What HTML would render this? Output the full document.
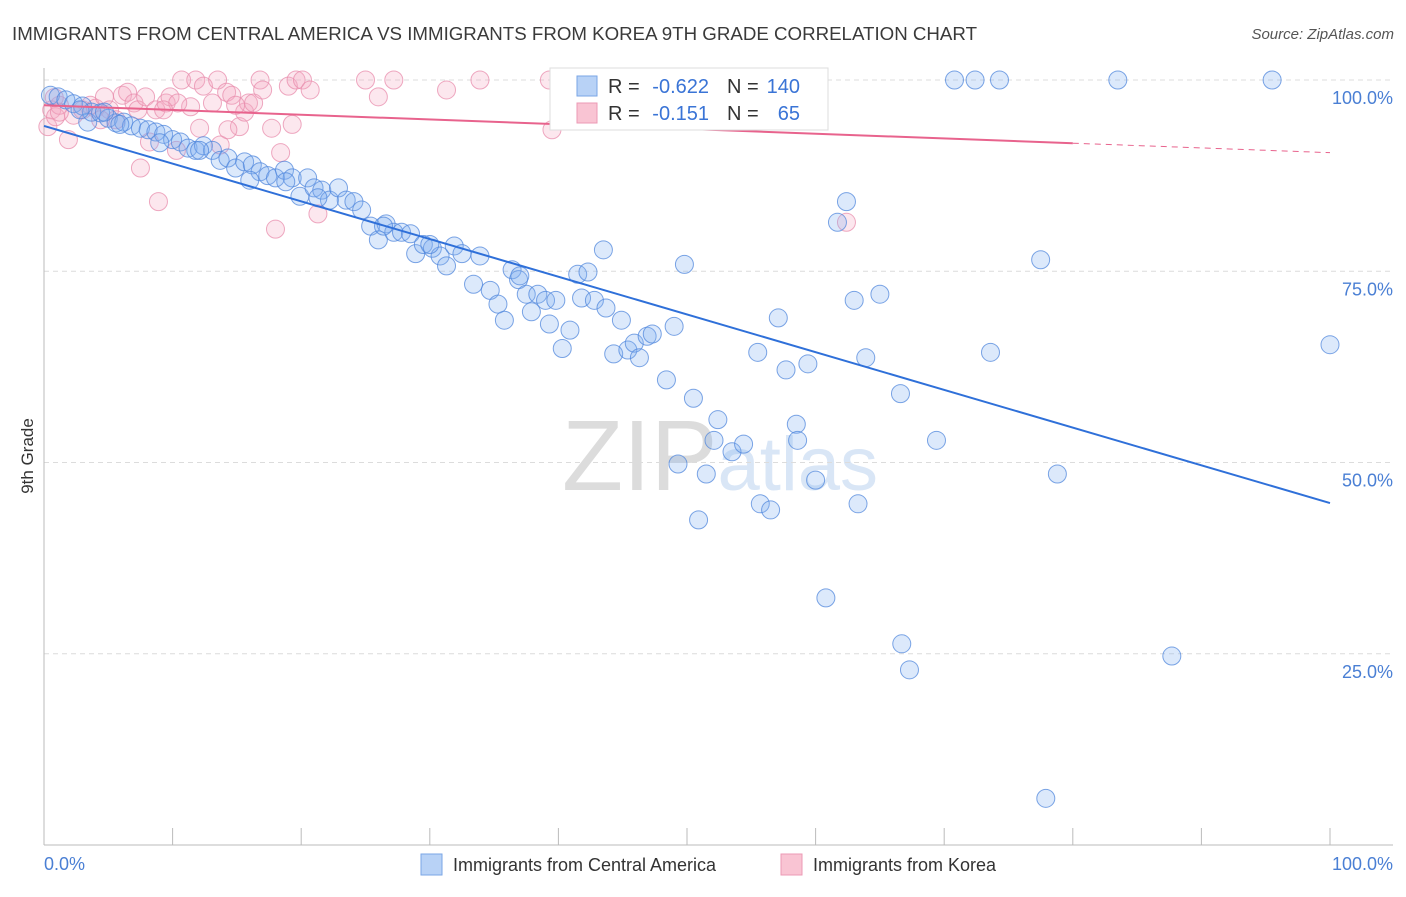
<!DOCTYPE html>
<html><head><meta charset="utf-8"><style>
body{margin:0;background:#fff;font-family:"Liberation Sans",sans-serif;}
svg text{font-family:"Liberation Sans",sans-serif;}
</style></head><body>
<svg id="chart" width="1406" height="892" viewBox="0 0 1406 892" xmlns="http://www.w3.org/2000/svg">
<text x="12" y="40" font-size="18" fill="#3a3a3a" textLength="965" lengthAdjust="spacingAndGlyphs">IMMIGRANTS FROM CENTRAL AMERICA VS IMMIGRANTS FROM KOREA 9TH GRADE CORRELATION CHART</text>
<text x="1394" y="39" font-size="15" fill="#555" text-anchor="end" font-style="italic">Source: ZipAtlas.com</text>
<text x="720" y="490" font-size="100" text-anchor="middle" fill="#e4e4e4" font-family="Liberation Serif"><tspan fill="#dcdcdc">ZIP</tspan><tspan fill="#d9e6f6" font-family="Liberation Sans" font-size="76">atlas</tspan></text>
<g id="grid"></g>
<g id="axes"></g>
<g id="pts"></g>
<g id="trends"></g>
<text transform="translate(33,456) rotate(-90)" font-size="17" fill="#333" text-anchor="middle">9th Grade</text>
<g>
<rect x="550" y="68" width="278" height="62" fill="#fff" stroke="#ddd"/>
<rect x="577" y="76" width="20" height="20" fill="#b8d2f6" stroke="#7aa6e6"/>
<rect x="577" y="103" width="20" height="20" fill="#f9c4d3" stroke="#ec9ab4"/>
<text x="608" y="93" font-size="20" fill="#333">R =</text>
<text x="709" y="93" font-size="20" fill="#3a74d6" text-anchor="end">-0.622</text>
<text x="727" y="93" font-size="20" fill="#333">N =</text>
<text x="800" y="93" font-size="20" fill="#3a74d6" text-anchor="end">140</text>
<text x="608" y="120" font-size="20" fill="#333">R =</text>
<text x="709" y="120" font-size="20" fill="#3a74d6" text-anchor="end">-0.151</text>
<text x="727" y="120" font-size="20" fill="#333">N =</text>
<text x="800" y="120" font-size="20" fill="#3a74d6" text-anchor="end">65</text>
</g>
<g>
<rect x="421" y="854" width="21" height="21" fill="#b8d2f6" stroke="#7aa6e6"/>
<text x="453" y="871" font-size="18" fill="#333">Immigrants from Central America</text>
<rect x="781" y="854" width="21" height="21" fill="#f9c4d3" stroke="#ec9ab4"/>
<text x="813" y="871" font-size="18" fill="#333">Immigrants from Korea</text>
</g>
</svg>
<script>
const yTicks=[25,50,75,100];
const yTickLabels=["25.0%","50.0%","75.0%","100.0%"];
const xTicks=[0,10,20,30,40,50,60,70,80,90,100];
const blueX=[0.5,1.1,1.7,2.3,3.0,3.4,3.7,4.4,5.0,5.6,6.2,6.8,7.5,8.1,8.7,9.3,10.0,10.6,11.2,11.8,12.4,13.1,13.7,14.3,14.9,15.6,16.2,16.8,17.4,18.0,18.7,19.3,19.9,20.5,21.0,21.6,22.2,22.9,23.5,24.1,24.7,25.4,26.0,26.6,27.2,27.8,28.5,28.9,29.5,30.2,30.8,31.3,31.9,32.5,33.4,33.9,34.7,35.3,35.8,36.4,36.9,37.5,37.9,38.4,39.0,39.3,39.8,40.3,40.9,41.5,41.8,42.3,42.8,43.5,43.7,44.3,44.9,45.4,45.9,46.3,46.9,47.3,48.4,49.0,49.8,50.5,49.3,51.5,52.1,52.4,53.5,54.4,55.7,56.5,55.5,57.1,57.7,58.5,58.6,59.4,60.0,60.8,61.7,62.4,63.0,63.3,63.9,65.0,66.6,67.3,66.7,69.4,73.6,77.5,77.9,78.8,87.7,100,50.9,47.7,54.5,70.8,72.4,74.3,83.5,95.5,2.8,4.7,5.9,9.0,12.1,16.0,18.8,21.3,26.4,30.0,37.0];
const blueY=[98.0,97.8,97.4,96.9,96.6,94.5,95.8,95.7,95.0,94.4,94.5,94.0,93.7,93.5,93.2,92.9,92.2,91.9,91.1,90.8,91.4,90.8,89.5,89.8,88.5,89.3,88.9,88.0,87.5,87.2,88.2,87.2,84.8,87.2,85.9,85.6,84.3,85.9,84.3,84.1,83.0,80.9,79.1,81.2,80.1,80.1,79.9,77.3,78.5,78.0,77.0,75.7,78.3,77.3,73.3,77.0,72.5,70.7,68.6,75.2,73.9,72.0,69.7,72.0,71.2,68.1,71.2,64.9,67.3,74.6,71.5,74.9,71.2,77.8,70.2,64.2,68.6,64.7,65.6,63.7,66.5,66.8,60.8,67.8,75.9,58.4,49.8,48.5,52.9,55.6,51.4,52.4,44.6,43.8,64.4,68.9,62.1,55.0,52.9,62.9,47.7,32.3,81.4,84.1,71.2,44.6,63.7,72.0,59.0,22.9,26.3,52.9,64.4,76.5,6.1,48.5,24.7,65.4,42.5,100,100,100,100,100,100,100,96.1,95.8,94.2,91.8,90.8,86.9,86.7,84.6,80.9,78.5,74.4];
const pinkX=[0.3,0.6,0.9,1.2,1.9,2.3,3.0,3.6,4.0,4.7,5.1,5.6,6.1,6.5,7.0,7.3,7.5,7.9,8.2,8.7,8.9,9.5,9.8,10.3,10.7,11.4,11.8,12.1,12.4,13.1,13.5,13.7,14.2,14.6,15.2,15.6,15.9,16.3,16.8,17.0,17.7,18.0,18.4,19.0,19.3,19.6,20.1,20.7,21.3,25.0,26.0,27.2,31.3,33.9,39.3,39.5,62.4,1.2,0.8,4.4,10.4,14.9,9.3,14.3];
const pinkY=[93.9,96.1,95.2,96.7,92.2,95.4,96.1,96.7,96.3,97.8,96.1,94.8,98.0,98.4,97.0,96.1,88.5,97.8,91.9,96.1,84.1,97.0,97.8,90.8,100,96.5,100,93.7,99.2,97.0,100,91.5,98.4,98.0,93.9,95.8,97.0,97.0,100,98.7,93.7,80.5,90.5,99.2,94.2,100,100,98.7,82.5,100,97.8,100,98.7,100,100,93.5,81.4,95.8,97.7,94.8,97.0,96.7,96.1,93.5];
const blueTrend=[94.0,44.7];
const pinkTrend=[96.7,90.5];
const pinkSolidEnd=80;

const NS="http://www.w3.org/2000/svg";
const X0=44,X1=1330,Y0=845,Y100=80;
const sx=v=>X0+(X1-X0)*v/100;
const sy=v=>Y0-(Y0-Y100)*v/100;
function mk(tag,attrs,parent){const e=document.createElementNS(NS,tag);for(const k in attrs)e.setAttribute(k,attrs[k]);parent.appendChild(e);return e;}
const grid=document.getElementById('grid'),axes=document.getElementById('axes'),pts=document.getElementById('pts'),tr=document.getElementById('trends');
yTicks.forEach((t,i)=>{
  const l=mk('line',{x1:X0,x2:1393,y1:sy(t),y2:sy(t),stroke:'#dcdcdc','stroke-dasharray':'5,4'},grid);
  
  
  const tx=mk('text',{x:1393,y:sy(t)+24,'font-size':18,fill:'#4a7fd4','text-anchor':'end'},grid);
  tx.textContent=yTickLabels[i];
  
  
});
const ya=mk('line',{x1:X0,x2:X0,y1:68,y2:Y0,stroke:'#bbb'},axes);


const xa=mk('line',{x1:X0,x2:1393,y1:Y0,y2:Y0,stroke:'#bbb'},axes);


xTicks.forEach(t=>{
  const k=mk('line',{x1:sx(t),x2:sx(t),y1:828,y2:Y0,stroke:'#bbb'},axes);
  
  
});
const xl0=mk('text',{x:44,y:870,'font-size':18,fill:'#4a7fd4'},axes);xl0.textContent='0.0%';


const xl1=mk('text',{x:1393,y:870,'font-size':18,fill:'#4a7fd4','text-anchor':'end'},axes);xl1.textContent='100.0%';


pinkX.forEach((x,i)=>{
  const c=mk('circle',{cx:sx(x),cy:sy(pinkY[i]),r:9,fill:'rgba(246,170,195,0.28)',stroke:'rgba(232,140,172,0.75)','stroke-width':1},pts);
  
  
});
blueX.forEach((x,i)=>{
  const c=mk('circle',{cx:sx(x),cy:sy(blueY[i]),r:9,fill:'rgba(130,175,240,0.28)',stroke:'rgba(80,135,220,0.75)','stroke-width':1},pts);
  
  
});
const lerp=(a,t)=>a[0]+(a[1]-a[0])*t/100;
const bl=mk('line',{x1:sx(0),y1:sy(blueTrend[0]),x2:sx(100),y2:sy(blueTrend[1]),stroke:'#2f70d9','stroke-width':2},tr);


const pl=mk('line',{x1:sx(0),y1:sy(pinkTrend[0]),x2:sx(pinkSolidEnd),y2:sy(lerp(pinkTrend,pinkSolidEnd)),stroke:'#e8638d','stroke-width':2},tr);


const pd=mk('line',{x1:sx(pinkSolidEnd),y1:sy(lerp(pinkTrend,pinkSolidEnd)),x2:sx(100),y2:sy(pinkTrend[1]),stroke:'#e8638d','stroke-width':1,'stroke-dasharray':'6,5'},tr);


</script>
</body></html>
